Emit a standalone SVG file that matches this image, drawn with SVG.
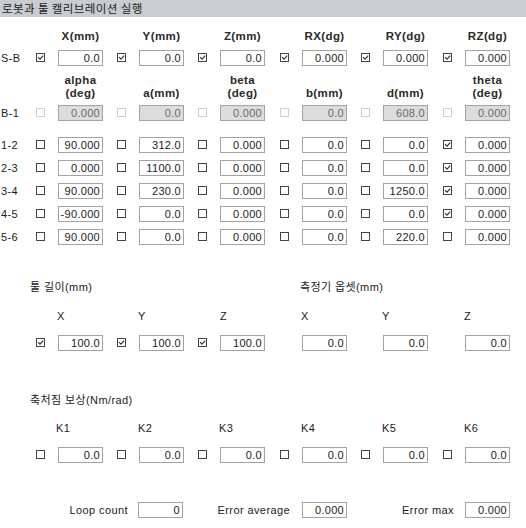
<svg xmlns="http://www.w3.org/2000/svg" xmlns:xlink="http://www.w3.org/1999/xlink" width="526" height="528" viewBox="0 0 526 528">
<style>
text{font-family:"Liberation Sans","Noto Sans CJK KR",sans-serif;fill:#1c1c1c}
.ttl{font-family:"Noto Sans CJK KR","Liberation Sans",sans-serif;font-size:11.5px;letter-spacing:0.4px}
.lbl{font-size:11px;letter-spacing:0.4px}
.hdr{font-size:11.5px;font-weight:bold;text-anchor:middle;letter-spacing:0.4px;fill:#2a2a2a}
.val{font-size:11px;text-anchor:end;letter-spacing:0.3px}
.vald{font-size:11px;text-anchor:end;letter-spacing:0.3px;fill:#6a6a6a}
.box{fill:#ffffff;stroke:#a3a3a3;stroke-width:1}
.boxd{fill:#dcdcdc;stroke:#a3a3a3;stroke-width:1}
.cbr{fill:#ffffff;stroke:#454545;stroke-width:1}
.cbdr{fill:#ffffff;stroke:#cfcfcf;stroke-width:1}
.tick{fill:none;stroke:#303030;stroke-width:1.1}
</style>
<defs>
<rect id="bx" x="0.5" y="0.5" width="44" height="15" class="box"/>
<rect id="bxd" x="0.5" y="0.5" width="44" height="15" class="boxd"/>
<rect id="cb" x="0.5" y="0.5" width="8" height="8" class="cbr"/>
<rect id="cbd" x="0.5" y="0.5" width="8" height="8" class="cbdr"/>
<g id="ck"><rect x="0.5" y="0.5" width="8" height="8" class="cbr"/><polyline points="2,4.2 4,6.2 7.2,2.6" class="tick"/></g>
</defs>
<rect width="526" height="528" fill="#ffffff"/>
<g id="title">
<rect x="0" y="0" width="526" height="17" fill="#c9cdd0"/>
<text class="ttl" x="2" y="13">로봇과 툴 캘리브레이션 실행</text>
</g>
<g id="headers">
<text class="hdr" x="80.5" y="40">X(mm)</text>
<text class="hdr" x="161.5" y="40">Y(mm)</text>
<text class="hdr" x="242.5" y="40">Z(mm)</text>
<text class="hdr" x="324.5" y="40">RX(dg)</text>
<text class="hdr" x="405.5" y="40">RY(dg)</text>
<text class="hdr" x="487.5" y="40">RZ(dg)</text>
<text class="hdr" x="80.5" y="84">alpha</text>
<text class="hdr" x="80.5" y="97">(deg)</text>
<text class="hdr" x="161.5" y="97">a(mm)</text>
<text class="hdr" x="242.5" y="84">beta</text>
<text class="hdr" x="242.5" y="97">(deg)</text>
<text class="hdr" x="324.5" y="97">b(mm)</text>
<text class="hdr" x="405.5" y="97">d(mm)</text>
<text class="hdr" x="487.5" y="84">theta</text>
<text class="hdr" x="487.5" y="97">(deg)</text>
</g>
<g id="row-SB">
<text class="lbl" x="1" y="62">S-B</text>
<use xlink:href="#ck" x="36" y="53"/><use xlink:href="#bx" x="58" y="50"/><text class="val" x="100" y="62">0.0</text>
<use xlink:href="#ck" x="117" y="53"/><use xlink:href="#bx" x="139" y="50"/><text class="val" x="181" y="62">0.0</text>
<use xlink:href="#ck" x="198" y="53"/><use xlink:href="#bx" x="220" y="50"/><text class="val" x="262" y="62">0.0</text>
<use xlink:href="#ck" x="280" y="53"/><use xlink:href="#bx" x="302" y="50"/><text class="val" x="344" y="62">0.000</text>
<use xlink:href="#ck" x="361" y="53"/><use xlink:href="#bx" x="383" y="50"/><text class="val" x="425" y="62">0.000</text>
<use xlink:href="#ck" x="443" y="53"/><use xlink:href="#bx" x="465" y="50"/><text class="val" x="507" y="62">0.000</text>
</g>
<g id="row-B1">
<text class="lbl" x="1" y="117">B-1</text>
<use xlink:href="#cbd" x="36" y="108"/><use xlink:href="#bxd" x="58" y="105"/><text class="vald" x="100" y="117">0.000</text>
<use xlink:href="#cbd" x="117" y="108"/><use xlink:href="#bxd" x="139" y="105"/><text class="vald" x="181" y="117">0.0</text>
<use xlink:href="#cbd" x="198" y="108"/><use xlink:href="#bxd" x="220" y="105"/><text class="vald" x="262" y="117">0.000</text>
<use xlink:href="#cbd" x="280" y="108"/><use xlink:href="#bxd" x="302" y="105"/><text class="vald" x="344" y="117">0.0</text>
<use xlink:href="#cbd" x="361" y="108"/><use xlink:href="#bxd" x="383" y="105"/><text class="vald" x="425" y="117">608.0</text>
<use xlink:href="#cbd" x="443" y="108"/><use xlink:href="#bxd" x="465" y="105"/><text class="vald" x="507" y="117">0.000</text>
</g>
<g id="row-12">
<text class="lbl" x="1" y="149">1-2</text>
<use xlink:href="#cb" x="36" y="140"/><use xlink:href="#bx" x="58" y="137"/><text class="val" x="100" y="149">90.000</text>
<use xlink:href="#cb" x="117" y="140"/><use xlink:href="#bx" x="139" y="137"/><text class="val" x="181" y="149">312.0</text>
<use xlink:href="#cb" x="198" y="140"/><use xlink:href="#bx" x="220" y="137"/><text class="val" x="262" y="149">0.000</text>
<use xlink:href="#cb" x="280" y="140"/><use xlink:href="#bx" x="302" y="137"/><text class="val" x="344" y="149">0.0</text>
<use xlink:href="#cb" x="361" y="140"/><use xlink:href="#bx" x="383" y="137"/><text class="val" x="425" y="149">0.0</text>
<use xlink:href="#ck" x="443" y="140"/><use xlink:href="#bx" x="465" y="137"/><text class="val" x="507" y="149">0.000</text>
</g>
<g id="row-23">
<text class="lbl" x="1" y="172">2-3</text>
<use xlink:href="#cb" x="36" y="163"/><use xlink:href="#bx" x="58" y="160"/><text class="val" x="100" y="172">0.000</text>
<use xlink:href="#cb" x="117" y="163"/><use xlink:href="#bx" x="139" y="160"/><text class="val" x="181" y="172">1100.0</text>
<use xlink:href="#cb" x="198" y="163"/><use xlink:href="#bx" x="220" y="160"/><text class="val" x="262" y="172">0.000</text>
<use xlink:href="#cb" x="280" y="163"/><use xlink:href="#bx" x="302" y="160"/><text class="val" x="344" y="172">0.0</text>
<use xlink:href="#cb" x="361" y="163"/><use xlink:href="#bx" x="383" y="160"/><text class="val" x="425" y="172">0.0</text>
<use xlink:href="#ck" x="443" y="163"/><use xlink:href="#bx" x="465" y="160"/><text class="val" x="507" y="172">0.000</text>
</g>
<g id="row-34">
<text class="lbl" x="1" y="195">3-4</text>
<use xlink:href="#cb" x="36" y="186"/><use xlink:href="#bx" x="58" y="183"/><text class="val" x="100" y="195">90.000</text>
<use xlink:href="#cb" x="117" y="186"/><use xlink:href="#bx" x="139" y="183"/><text class="val" x="181" y="195">230.0</text>
<use xlink:href="#cb" x="198" y="186"/><use xlink:href="#bx" x="220" y="183"/><text class="val" x="262" y="195">0.000</text>
<use xlink:href="#cb" x="280" y="186"/><use xlink:href="#bx" x="302" y="183"/><text class="val" x="344" y="195">0.0</text>
<use xlink:href="#cb" x="361" y="186"/><use xlink:href="#bx" x="383" y="183"/><text class="val" x="425" y="195">1250.0</text>
<use xlink:href="#ck" x="443" y="186"/><use xlink:href="#bx" x="465" y="183"/><text class="val" x="507" y="195">0.000</text>
</g>
<g id="row-45">
<text class="lbl" x="1" y="218">4-5</text>
<use xlink:href="#cb" x="36" y="209"/><use xlink:href="#bx" x="58" y="206"/><text class="val" x="100" y="218">-90.000</text>
<use xlink:href="#cb" x="117" y="209"/><use xlink:href="#bx" x="139" y="206"/><text class="val" x="181" y="218">0.0</text>
<use xlink:href="#cb" x="198" y="209"/><use xlink:href="#bx" x="220" y="206"/><text class="val" x="262" y="218">0.000</text>
<use xlink:href="#cb" x="280" y="209"/><use xlink:href="#bx" x="302" y="206"/><text class="val" x="344" y="218">0.0</text>
<use xlink:href="#cb" x="361" y="209"/><use xlink:href="#bx" x="383" y="206"/><text class="val" x="425" y="218">0.0</text>
<use xlink:href="#ck" x="443" y="209"/><use xlink:href="#bx" x="465" y="206"/><text class="val" x="507" y="218">0.000</text>
</g>
<g id="row-56">
<text class="lbl" x="1" y="241">5-6</text>
<use xlink:href="#cb" x="36" y="232"/><use xlink:href="#bx" x="58" y="229"/><text class="val" x="100" y="241">90.000</text>
<use xlink:href="#cb" x="117" y="232"/><use xlink:href="#bx" x="139" y="229"/><text class="val" x="181" y="241">0.0</text>
<use xlink:href="#cb" x="198" y="232"/><use xlink:href="#bx" x="220" y="229"/><text class="val" x="262" y="241">0.000</text>
<use xlink:href="#cb" x="280" y="232"/><use xlink:href="#bx" x="302" y="229"/><text class="val" x="344" y="241">0.0</text>
<use xlink:href="#cb" x="361" y="232"/><use xlink:href="#bx" x="383" y="229"/><text class="val" x="425" y="241">220.0</text>
<use xlink:href="#cb" x="443" y="232"/><use xlink:href="#bx" x="465" y="229"/><text class="val" x="507" y="241">0.000</text>
</g>
<g id="tool">
<text class="lbl" x="30" y="291">툴 길이(mm)</text>
<text class="lbl" x="300" y="291">측정기 옵셋(mm)</text>
<text class="lbl" x="57" y="320">X</text>
<text class="lbl" x="138" y="320">Y</text>
<text class="lbl" x="220" y="320">Z</text>
<text class="lbl" x="301" y="320">X</text>
<text class="lbl" x="382" y="320">Y</text>
<text class="lbl" x="464" y="320">Z</text>
<use xlink:href="#ck" x="36" y="338"/><use xlink:href="#bx" x="58" y="335"/><text class="val" x="100" y="347">100.0</text>
<use xlink:href="#ck" x="117" y="338"/><use xlink:href="#bx" x="139" y="335"/><text class="val" x="181" y="347">100.0</text>
<use xlink:href="#ck" x="198" y="338"/><use xlink:href="#bx" x="220" y="335"/><text class="val" x="262" y="347">100.0</text>
<use xlink:href="#bx" x="302" y="335"/><text class="val" x="344" y="347">0.0</text>
<use xlink:href="#bx" x="383" y="335"/><text class="val" x="425" y="347">0.0</text>
<use xlink:href="#bx" x="465" y="335"/><text class="val" x="507" y="347">0.0</text>
</g>
<g id="stiffness">
<text class="lbl" x="30" y="404">축처짐 보상(Nm/rad)</text>
<text class="lbl" x="56" y="432">K1</text>
<text class="lbl" x="138" y="432">K2</text>
<text class="lbl" x="219" y="432">K3</text>
<text class="lbl" x="301" y="432">K4</text>
<text class="lbl" x="382" y="432">K5</text>
<text class="lbl" x="464" y="432">K6</text>
<use xlink:href="#cb" x="36" y="450"/><use xlink:href="#bx" x="58" y="447"/><text class="val" x="100" y="459">0.0</text>
<use xlink:href="#cb" x="117" y="450"/><use xlink:href="#bx" x="139" y="447"/><text class="val" x="181" y="459">0.0</text>
<use xlink:href="#cb" x="198" y="450"/><use xlink:href="#bx" x="220" y="447"/><text class="val" x="262" y="459">0.0</text>
<use xlink:href="#cb" x="280" y="450"/><use xlink:href="#bx" x="302" y="447"/><text class="val" x="344" y="459">0.0</text>
<use xlink:href="#cb" x="361" y="450"/><use xlink:href="#bx" x="383" y="447"/><text class="val" x="425" y="459">0.0</text>
<use xlink:href="#cb" x="443" y="450"/><use xlink:href="#bx" x="465" y="447"/><text class="val" x="507" y="459">0.0</text>
</g>
<g id="results">
<text class="lbl" x="128" y="514" text-anchor="end">Loop count</text>
<use xlink:href="#bx" x="138" y="502"/><text class="val" x="180" y="514">0</text>
<text class="lbl" x="290" y="514" text-anchor="end">Error average</text>
<use xlink:href="#bx" x="302" y="502"/><text class="val" x="344" y="514">0.000</text>
<text class="lbl" x="454" y="514" text-anchor="end">Error max</text>
<use xlink:href="#bx" x="465" y="502"/><text class="val" x="507" y="514">0.000</text>
</g>
</svg>
